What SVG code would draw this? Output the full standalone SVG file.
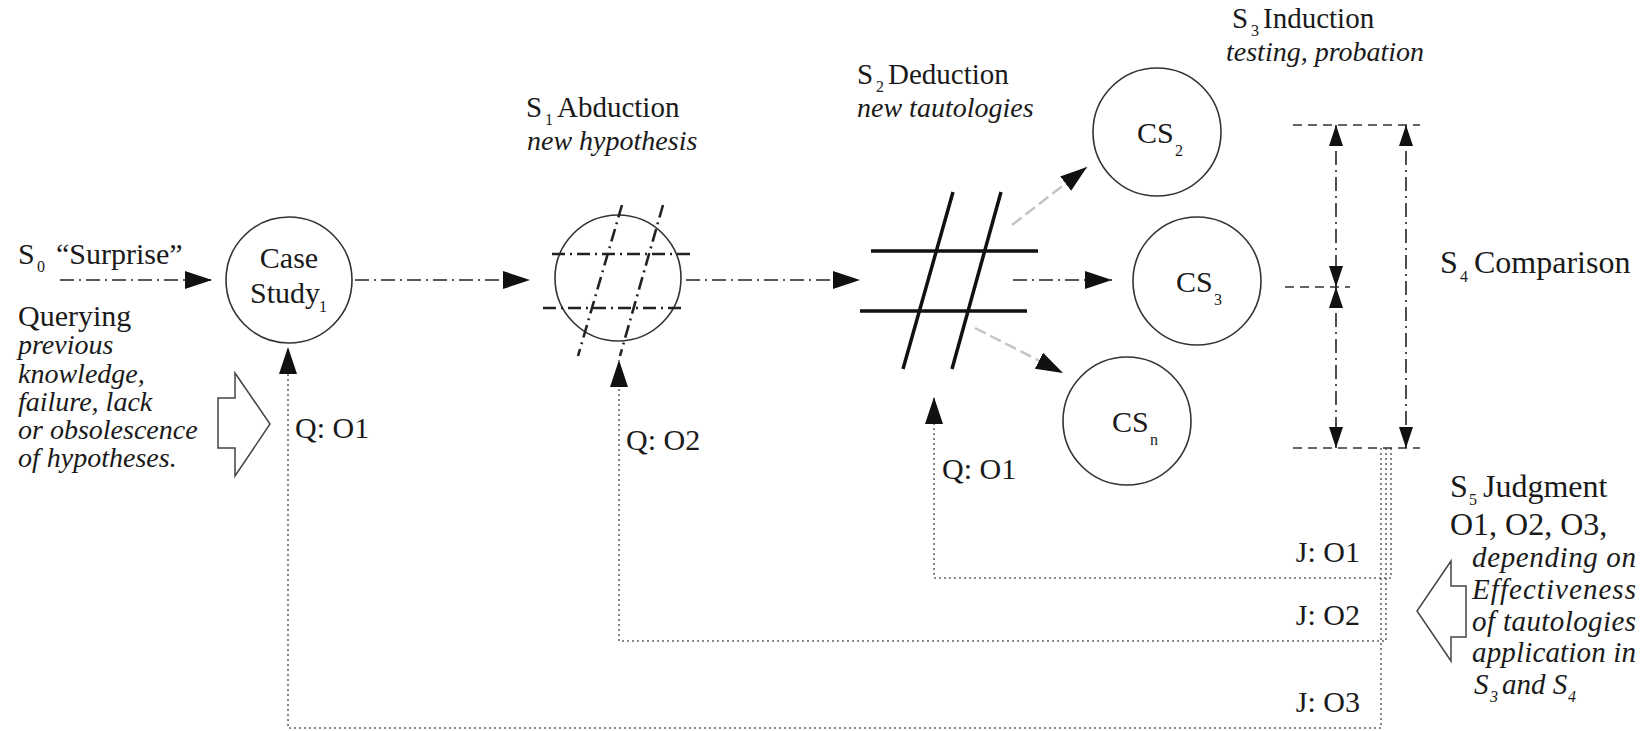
<svg xmlns="http://www.w3.org/2000/svg" width="1649" height="731" viewBox="0 0 1649 731">
<style>
.t{font-family:'Liberation Serif','Times New Roman','DejaVu Serif',serif;font-size:30px;fill:#1a1a1a}
.h{font-size:29px}
.big{font-size:32px}
.i{font-style:italic;font-size:28px}
.ri{font-style:italic;font-size:29px}
.sub{font-size:16px}
.c{fill:#fff;stroke:#333;stroke-width:1.6}
.dd{stroke:#222;stroke-width:1.6;stroke-dasharray:14 5 2 5;fill:none}
.ext{stroke:#333;stroke-width:1.4;stroke-dasharray:9 6;fill:none}
.dt{stroke:#666;stroke-width:1.6;stroke-dasharray:2 3;fill:none}
.gr{stroke:#c4c4c4;stroke-width:2.5;stroke-dasharray:12 5;fill:none}
.hs{stroke:#111;stroke-width:3.5;fill:none}
.ab{stroke:#222;stroke-width:2.6;stroke-dasharray:13 5 2 5;fill:none}
.blk{fill:#fff;stroke:#444;stroke-width:1.5}
</style>
<defs>
<marker id="ah" markerUnits="userSpaceOnUse" markerWidth="28" markerHeight="20" refX="27" refY="10" orient="auto"><path d="M0,1 L27,10 L0,19 z" fill="#111"/></marker>
<marker id="as" markerUnits="userSpaceOnUse" markerWidth="22" markerHeight="14" refX="21" refY="7" orient="auto-start-reverse"><path d="M0,0 L21,7 L0,14 z" fill="#111"/></marker>
</defs>
<rect width="1649" height="731" fill="#fff"/>

<g id="connectors">
<path class="dd" d="M60,280 H212" marker-end="url(#ah)"/>
<path class="dd" d="M355,280 H530" marker-end="url(#ah)"/>
<path class="dd" d="M686,280 H860" marker-end="url(#ah)"/>
<path class="dd" d="M1013,280 H1112" marker-end="url(#ah)"/>
<path class="gr" d="M1012,225 L1087,167" marker-end="url(#ah)"/>
<path class="gr" d="M975,328 L1063,373" marker-end="url(#ah)"/>
<path class="dt" d="M1381,448 V728 H288 V347" marker-end="url(#ah)"/>
<path class="dt" d="M1386,448 V641 H619 V360" marker-end="url(#ah)"/>
<path class="dt" d="M1391,448 V578 H934 V397" marker-end="url(#ah)"/>
</g>

<g id="comparison-dims">
<path class="ext" d="M1293,125 H1420"/>
<path class="ext" d="M1285,287 H1350"/>
<path class="ext" d="M1293,448 H1420"/>
<path class="dd" d="M1336,125 V287" marker-start="url(#as)" marker-end="url(#as)"/>
<path class="dd" d="M1336,287 V448" marker-start="url(#as)" marker-end="url(#as)"/>
<path class="dd" d="M1406,125 V448" marker-start="url(#as)" marker-end="url(#as)"/>
</g>

<g id="s0-surprise">
<text class="t" x="18" y="264">S<tspan class="sub" x="37" y="272">0</tspan><tspan x="56" y="264">“Surprise”</tspan></text>
<text class="t" x="18" y="326">Querying</text>
<text class="t i" x="18" y="354">previous</text>
<text class="t i" x="18" y="383">knowledge,</text>
<text class="t i" x="18" y="411">failure, lack</text>
<text class="t i" x="18" y="439">or obsolescence</text>
<text class="t i" x="18" y="467">of hypotheses.</text>
<polygon class="blk" points="218,398 235,398 235,373 270,424 235,476 235,448 218,448"/>
</g>

<g id="case-study-1">
<circle class="c" cx="289" cy="280" r="63"/>
<text class="t" x="289" y="268" text-anchor="middle">Case</text>
<text class="t" x="250" y="303">Study<tspan class="sub" x="319" y="312">1</tspan></text>
</g>

<g id="s1-abduction">
<text class="t h" x="526" y="117">S<tspan class="sub" x="545" y="125">1</tspan><tspan x="557" y="117">Abduction</tspan></text>
<text class="t i" x="527" y="150">new hypothesis</text>
<circle class="c" cx="618" cy="278" r="63"/>
<path class="ab" d="M552,254 H695"/>
<path class="ab" d="M543,308 H685"/>
<path class="ab" d="M622,205 L578,356"/>
<path class="ab" d="M663,205 L620,356"/>
</g>

<g id="s2-deduction">
<text class="t h" x="857" y="84">S<tspan class="sub" x="876" y="92">2</tspan><tspan x="888" y="84">Deduction</tspan></text>
<text class="t i" x="857" y="117">new tautologies</text>
<path class="hs" d="M871,251 H1038 M860,311 H1027 M953,192 L903,369 M1001,192 L952,369"/>
</g>

<g id="s3-induction">
<text class="t h" x="1232" y="28">S<tspan class="sub" x="1251" y="36">3</tspan><tspan x="1263" y="28">Induction</tspan></text>
<text class="t i" x="1226" y="61">testing, probation</text>
</g>

<g id="cs2">
<circle class="c" cx="1157" cy="132" r="64"/>
<text class="t" x="1137" y="143">CS<tspan class="sub" x="1175" y="156">2</tspan></text>
</g>
<g id="cs3">
<circle class="c" cx="1197" cy="281" r="64"/>
<text class="t" x="1176" y="292">CS<tspan class="sub" x="1214" y="305">3</tspan></text>
</g>
<g id="csn">
<circle class="c" cx="1127" cy="421" r="64"/>
<text class="t" x="1112" y="432">CS<tspan class="sub" x="1150" y="445">n</tspan></text>
</g>

<g id="s4-comparison">
<text class="t big" x="1440" y="273">S<tspan class="sub" x="1460" y="282">4</tspan><tspan x="1474" y="273">Comparison</tspan></text>
</g>

<g id="s5-judgment">
<text class="t big" x="1450" y="497">S<tspan class="sub" x="1469" y="505">5</tspan><tspan x="1483" y="497">Judgment</tspan></text>
<text class="t big" x="1450" y="535">O1, O2, O3,</text>
<text class="t ri" x="1472" y="567" textLength="164" lengthAdjust="spacing">depending on</text>
<text class="t ri" x="1472" y="599" textLength="164" lengthAdjust="spacing">Effectiveness</text>
<text class="t ri" x="1472" y="631" textLength="164" lengthAdjust="spacing">of tautologies</text>
<text class="t ri" x="1472" y="662" textLength="164" lengthAdjust="spacing">application in</text>
<text class="t ri" x="1474" y="694">S<tspan class="sub" x="1490" y="702">3</tspan><tspan x="1502" y="694">and S</tspan><tspan class="sub" x="1568" y="702">4</tspan></text>
<polygon class="blk" points="1466,586 1451,586 1451,561 1417,611 1451,661 1451,637 1466,637"/>
</g>

<g id="labels">
<text class="t" x="295" y="438">Q: O1</text>
<text class="t" x="626" y="450">Q: O2</text>
<text class="t" x="942" y="479">Q: O1</text>
<text class="t" x="1360" y="562" text-anchor="end">J: O1</text>
<text class="t" x="1360" y="625" text-anchor="end">J: O2</text>
<text class="t" x="1360" y="712" text-anchor="end">J: O3</text>
</g>
</svg>
